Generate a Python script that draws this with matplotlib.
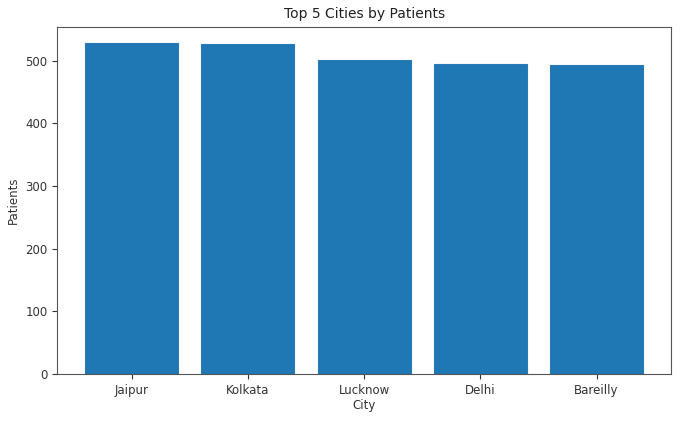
import matplotlib
matplotlib.use("Agg")
import matplotlib.pyplot as plt

plt.rcParams['font.family'] = ['DejaVu Sans']

cities = ["Jaipur", "Kolkata", "Lucknow", "Delhi", "Bareilly"]
patients = [528, 526, 501, 495, 494]

fig = plt.figure(figsize=(6.8, 4.21), dpi=100)
ax = fig.add_axes([57.3/680, 1 - 374/421, (671-57.3)/680, (374-26.7)/421])
ax.bar(cities, patients, color="#1f77b4", edgecolor="#2a7ab8", linewidth=0.8)
ax.set_title("Top 5 Cities by Patients", fontsize=10, color="#222222", pad=6)
ax.set_xlabel("City", fontsize=8.5, color="#333333", labelpad=2)
ax.set_ylabel("Patients", fontsize=8.5, color="#333333")
ax.tick_params(labelsize=8.5, colors="#333333")
for s in ax.spines.values():
    s.set_color("#555555")
fig.savefig("out.png", dpi=100)
